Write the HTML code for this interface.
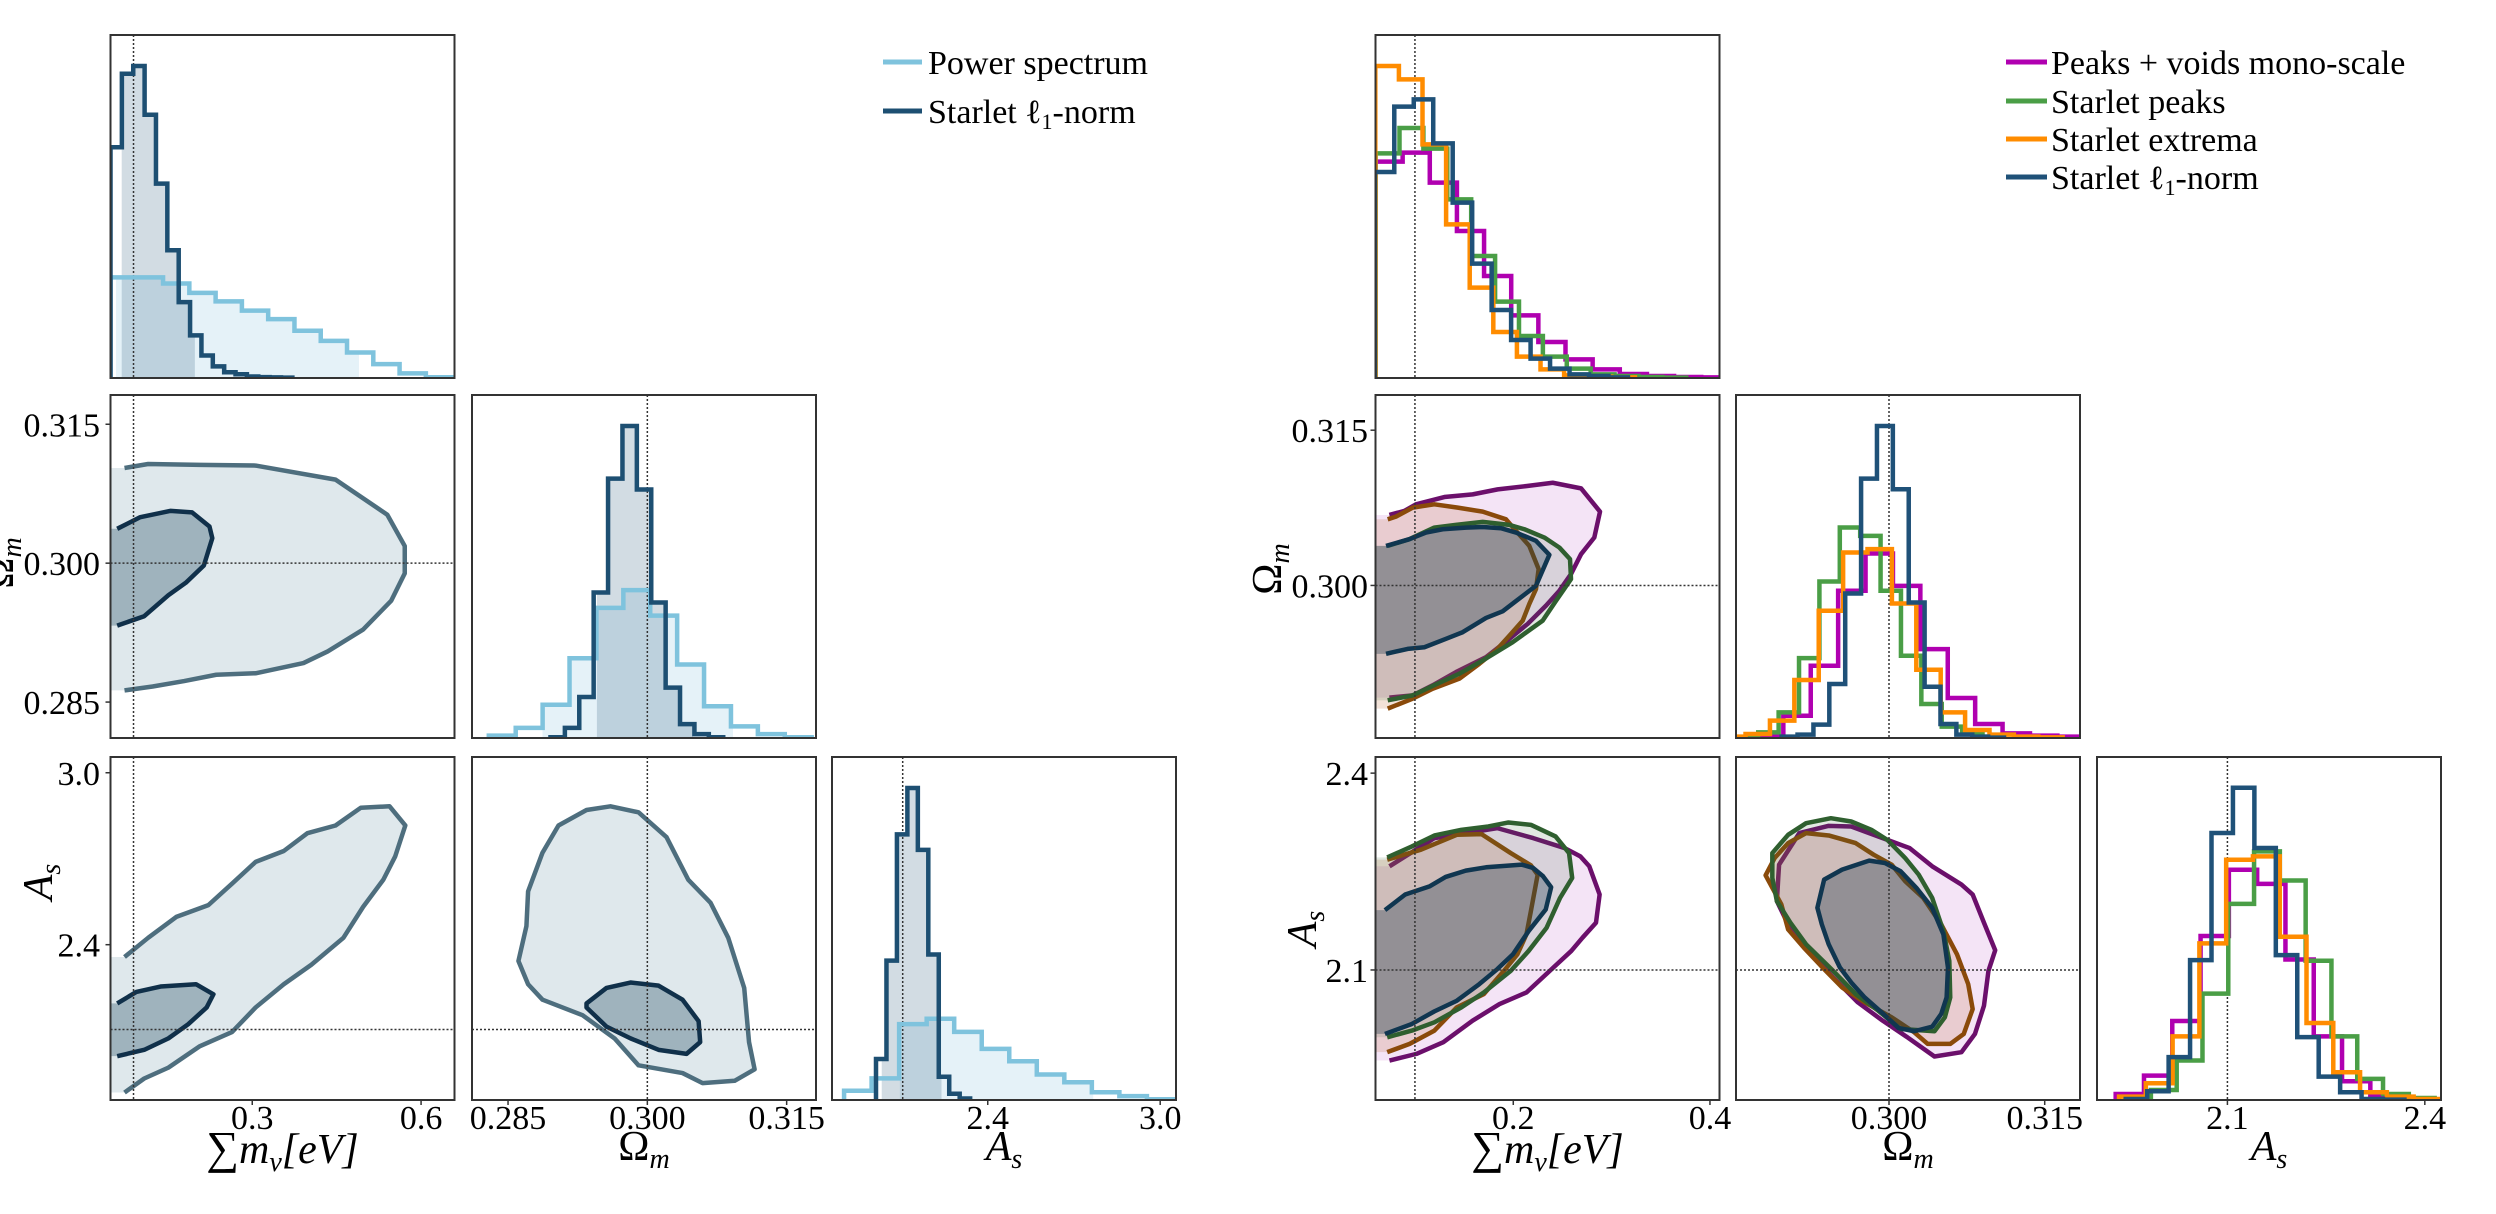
<!DOCTYPE html>
<html><head><meta charset="utf-8"><title>Corner plots</title>
<style>
html,body{margin:0;padding:0;background:#fff;}
svg{display:block;font-family:"Liberation Serif",serif;}
text{font-family:"Liberation Serif",serif;}
</style></head>
<body>
<svg id="fig" xmlns="http://www.w3.org/2000/svg" width="2496" height="1214" viewBox="0 0 2496 1214" font-family="Liberation Serif, serif">
<rect width="2496" height="1214" fill="#fff"/>
</svg>
<script>
// ---------- axis domains & ticks ----------
const leftMnuDomain=[0.0481,0.6594];
const leftOmDomain=[0.28112,0.31816];
const leftAsDomain=[1.858,3.055];
const rightMnuDomain=[0.0599,0.4097];
const rightOmDomain=[0.28526,0.3184];
const rightAsDomain=[1.9018,2.4246];
const leftMnuTicks=[0.3,0.6]; const leftMnuTickLabels=["0.3","0.6"];
const leftOmTicks=[0.285,0.300,0.315]; const leftOmTickLabels=["0.285","0.300","0.315"];
const leftAsTicks=[2.4,3.0]; const leftAsTickLabels=["2.4","3.0"];
const rightMnuTicks=[0.2,0.4]; const rightMnuTickLabels=["0.2","0.4"];
const rightOmTicks=[0.300,0.315]; const rightOmTickLabels=["0.300","0.315"];
const rightAsTicks=[2.1,2.4]; const rightAsTickLabels=["2.1","2.4"];
const leftFiducial=[0.089,0.300,2.104];
const rightFiducial=[0.1,0.300,2.1];

// ---------- left histograms (start, bin width, counts) ----------
const lPsMnu=[0.0481,0.0467]; const lPsMnuCounts=[130,130,122,110,99,87,76,61,48,33,18,6,1];
const lL1Mnu=[0.0481,0.0202]; const lL1MnuCounts=[298,393,403,340,251,165,98,55,29,15,7.5,4.8,2,1.2,0.8,0.5];
const lPsOm=[0.28293,0.002897]; const lPsOmCounts=[3,13,43,103,168,191,158,95,41,15,5,1];
const lL1Om=[0.28957,0.00155]; const lL1OmCounts=[1,13,53,188,335,403,321,175,65,18,5,1];
const lPsAs=[1.900,0.0958]; const lPsAsCounts=[12,28,98,105,88,66,50,33,23,10,5,1];
const lL1As=[2.0111,0.0364]; const lL1AsCounts=[53,180,343,403,323,188,30,8,2];
const lHistMax=443;
const lPsMnuFill=[0.058,0.4896]; const lL1MnuFill=[0.068,0.198];
const lPsOmFill=[0.28871,0.30922]; const lL1OmFill=[0.29457,0.30491];
const lPsAsFill=[2.094,2.767]; const lL1AsFill=[2.031,2.239];

// ---------- left contours ----------
const lMnuOmOuter=[[0.073,0.31028],[0.115,0.31071],[0.207,0.31062],[0.306,0.31054],[0.448,0.30902],[0.540,0.30523],[0.571,0.30185],[0.571,0.29890],[0.547,0.29595],[0.497,0.29283],[0.434,0.29047],[0.391,0.28921],[0.306,0.28811],[0.236,0.28795],[0.179,0.28727],[0.123,0.28668],[0.073,0.28626]];
const lMnuOmInner=[[0.060,0.30371],[0.101,0.30497],[0.155,0.30565],[0.193,0.30548],[0.224,0.30396],[0.229,0.30270],[0.214,0.29975],[0.182,0.29789],[0.151,0.29654],[0.108,0.29427],[0.060,0.29326]];
const lMnuAsOuter=[[0.073,2.357],[0.115,2.424],[0.165,2.497],[0.222,2.538],[0.264,2.613],[0.306,2.689],[0.356,2.727],[0.398,2.789],[0.448,2.816],[0.493,2.878],[0.544,2.883],[0.572,2.816],[0.554,2.708],[0.533,2.627],[0.497,2.532],[0.462,2.424],[0.405,2.330],[0.356,2.262],[0.306,2.181],[0.264,2.095],[0.207,2.046],[0.151,1.971],[0.108,1.933],[0.073,1.884]];
const lMnuAsInner=[[0.060,2.195],[0.094,2.235],[0.137,2.254],[0.200,2.262],[0.231,2.227],[0.219,2.181],[0.186,2.122],[0.151,2.073],[0.108,2.033],[0.060,2.011]];
const lOmAsOuter=[[0.28871,2.721],[0.29043,2.816],[0.29345,2.870],[0.29603,2.883],[0.29905,2.862],[0.30207,2.775],[0.30440,2.627],[0.30681,2.546],[0.30871,2.424],[0.31043,2.249],[0.31095,2.060],[0.31155,1.965],[0.30940,1.925],[0.30595,1.917],[0.30379,1.952],[0.29905,1.979],[0.29647,2.073],[0.29302,2.154],[0.28871,2.208],[0.28716,2.262],[0.28612,2.343],[0.28698,2.465],[0.28716,2.586]];
const lOmAsInner=[[0.29345,2.195],[0.29560,2.249],[0.29819,2.268],[0.30121,2.257],[0.30379,2.208],[0.30552,2.133],[0.30569,2.060],[0.30422,2.019],[0.30121,2.033],[0.29819,2.073],[0.29560,2.114],[0.29345,2.181]];

// ---------- right histograms ----------
const rPvMnu=[0.0599,0.0276]; const rPvMnuCounts=[649,676,586,441,306,188,108,56,26,12,6,3,2];
const rPkMnu=[0.0600,0.0243]; const rPkMnuCounts=[674,750,688,536,366,229,126,64,28,11,6,3,1];
const rExMnu=[0.0597,0.0240]; const rExMnuCounts=[936,896,701,461,271,138,64,26,8,4,2];
const rL1Mnu=[0.0592,0.0198]; const rL1MnuCounts=[618,814,836,704,526,343,204,114,58,28,11,6,2];
const rPvOm=[0.28718,0.00264]; const rPvOmCounts=[4,67,217,442,554,457,267,120,42,14,7,4];
const rPkOm=[0.28544,0.001964]; const rPkOmCounts=[2,17,77,240,470,632,607,442,247,102,34,12,4];
const rExOm=[0.28383,0.00235]; const rExOmCounts=[4,12,52,174,382,557,567,404,205,77,24,10,4,2];
const rL1Om=[0.28966,0.00153]; const rL1OmCounts=[4,10,40,162,434,779,937,747,407,154,42,10,4,1];
const rPvAs=[1.9302,0.0430]; const rPvAsCounts=[18,73,236,490,688,646,420,190,56,13,3];
const rPkAs=[1.9445,0.0392]; const rPkAsCounts=[3,30,118,318,586,743,656,416,190,63,18,6];
const rExAs=[1.9353,0.0407]; const rExAsCounts=[10,50,190,468,718,728,488,230,83,23,10,3];
const rL1As=[1.9455,0.03258]; const rL1AsCounts=[3,26,128,418,798,933,753,433,188,70,23,3,1];
const rHistMax=[1029,1030,1025];

// ---------- right contours ----------
const rMnuOmPv=[[0.0740,0.30681],[0.0892,0.30720],[0.1011,0.30784],[0.1299,0.30854],[0.1587,0.30880],[0.1841,0.30928],[0.2130,0.30960],[0.2401,0.30992],[0.2689,0.30938],[0.2882,0.30713],[0.2824,0.30463],[0.2689,0.30302],[0.2587,0.30110],[0.2469,0.29949],[0.2333,0.29805],[0.2146,0.29628],[0.1960,0.29484],[0.1723,0.29307],[0.1418,0.29163],[0.1180,0.29035],[0.0977,0.28938],[0.0740,0.28916]];
const rMnuOmEx=[[0.0723,0.30639],[0.0807,0.30665],[0.0977,0.30752],[0.1197,0.30784],[0.1435,0.30752],[0.1689,0.30713],[0.1926,0.30639],[0.2028,0.30527],[0.2163,0.30382],[0.2258,0.30158],[0.2231,0.29965],[0.2163,0.29821],[0.2096,0.29660],[0.1977,0.29532],[0.1824,0.29371],[0.1655,0.29243],[0.1452,0.29099],[0.1180,0.29002],[0.0977,0.28906],[0.0723,0.28810]];
const rMnuOmPk=[[0.0723,0.30382],[0.0943,0.30447],[0.1197,0.30559],[0.1418,0.30585],[0.1689,0.30614],[0.1960,0.30585],[0.2113,0.30543],[0.2316,0.30463],[0.2469,0.30366],[0.2577,0.30254],[0.2587,0.30061],[0.2435,0.29853],[0.2299,0.29660],[0.1994,0.29452],[0.1689,0.29275],[0.1452,0.29147],[0.1214,0.29044],[0.0977,0.28938],[0.0723,0.28890]];
const rMnuOmL1=[[0.0706,0.30382],[0.0943,0.30447],[0.1113,0.30511],[0.1282,0.30543],[0.1519,0.30559],[0.1689,0.30565],[0.1875,0.30553],[0.2028,0.30511],[0.2231,0.30431],[0.2367,0.30296],[0.2231,0.29997],[0.2011,0.29837],[0.1892,0.29750],[0.1723,0.29686],[0.1485,0.29548],[0.1316,0.29484],[0.1096,0.29403],[0.0926,0.29387],[0.0706,0.29339]];
const rMnuAsPv=[[0.0741,2.2580],[0.1198,2.3010],[0.1837,2.3162],[0.2202,2.3010],[0.2522,2.2858],[0.2682,2.2732],[0.2773,2.2580],[0.2878,2.2150],[0.2841,2.1720],[0.2704,2.1492],[0.2590,2.1290],[0.2408,2.1037],[0.2134,2.0657],[0.1860,2.0480],[0.1586,2.0227],[0.1289,1.9899],[0.1015,1.9721],[0.0741,1.9620]];
const rMnuAsEx=[[0.0718,2.2681],[0.1061,2.2833],[0.1426,2.3060],[0.1677,2.3071],[0.1974,2.2782],[0.2179,2.2595],[0.2248,2.2453],[0.2179,2.1897],[0.2134,2.1543],[0.2042,2.1239],[0.1905,2.0986],[0.1700,2.0632],[0.1426,2.0430],[0.1198,2.0076],[0.0946,1.9873],[0.0718,1.9747]];
const rMnuAsPk=[[0.0718,2.2716],[0.0969,2.2883],[0.1198,2.3050],[0.1472,2.3136],[0.1746,2.3187],[0.1951,2.3248],[0.2179,2.3212],[0.2430,2.3035],[0.2567,2.2782],[0.2599,2.2403],[0.2476,2.2099],[0.2339,2.1644],[0.2156,2.1290],[0.1974,2.0986],[0.1700,2.0657],[0.1472,2.0430],[0.1198,2.0202],[0.0969,2.0076],[0.0718,1.9974]];
const rMnuAsL1=[[0.0695,2.1912],[0.0901,2.2150],[0.1152,2.2276],[0.1312,2.2418],[0.1517,2.2514],[0.1723,2.2565],[0.2088,2.2605],[0.2202,2.2555],[0.2303,2.2428],[0.2385,2.2261],[0.2330,2.1922],[0.2156,2.1593],[0.1997,2.1239],[0.1837,2.1012],[0.1654,2.0784],[0.1426,2.0531],[0.1198,2.0369],[0.0969,2.0177],[0.0695,2.0025]];
const rOmAsPv=[[0.28941,2.2605],[0.29136,2.3086],[0.29419,2.3197],[0.29636,2.3187],[0.29939,2.3010],[0.30199,2.2858],[0.30416,2.2580],[0.30698,2.2302],[0.30806,2.2150],[0.30915,2.1720],[0.31023,2.1300],[0.30958,2.0986],[0.30915,2.0455],[0.30828,2.0025],[0.30698,1.9747],[0.30438,1.9681],[0.30177,1.9974],[0.29939,2.0227],[0.29700,2.0506],[0.29462,2.0885],[0.29201,2.1340],[0.29028,2.1694],[0.28920,2.2049],[0.28933,2.2403]];
const rOmAsEx=[[0.28811,2.2443],[0.28898,2.2706],[0.29028,2.2934],[0.29201,2.3086],[0.29419,2.3050],[0.29679,2.2934],[0.29852,2.2757],[0.30026,2.2605],[0.30156,2.2352],[0.30330,2.2099],[0.30503,2.1694],[0.30655,2.1239],[0.30763,2.0784],[0.30806,2.0404],[0.30720,2.0025],[0.30590,1.9873],[0.30373,1.9873],[0.30243,2.0050],[0.30026,2.0278],[0.29766,2.0506],[0.29548,2.0733],[0.29375,2.1012],[0.29180,2.1340],[0.29028,2.1619],[0.28963,2.1998]];
const rOmAsPk=[[0.28876,2.2782],[0.29028,2.3060],[0.29201,2.3237],[0.29440,2.3313],[0.29636,2.3263],[0.29830,2.3136],[0.29982,2.2985],[0.30156,2.2706],[0.30286,2.2453],[0.30416,2.2099],[0.30524,2.1593],[0.30581,2.1138],[0.30590,2.0581],[0.30538,2.0278],[0.30438,2.0066],[0.30112,2.0101],[0.29896,2.0379],[0.29679,2.0632],[0.29462,2.0986],[0.29201,2.1391],[0.29050,2.1720],[0.28920,2.2049],[0.28876,2.2403]];
const rOmAsL1=[[0.29375,2.2377],[0.29548,2.2529],[0.29809,2.2666],[0.29961,2.2630],[0.30112,2.2504],[0.30264,2.2251],[0.30416,2.1948],[0.30524,2.1543],[0.30568,2.1037],[0.30555,2.0581],[0.30503,2.0329],[0.30416,2.0136],[0.30243,2.0066],[0.30091,2.0116],[0.29939,2.0339],[0.29766,2.0581],[0.29636,2.0809],[0.29527,2.1037],[0.29419,2.1391],[0.29353,2.1694],[0.29310,2.1948]];

// ---------- rendering ----------
const NS="http://www.w3.org/2000/svg";
const svg=document.getElementById('fig');
function el(tag,attrs,parent){const e=document.createElementNS(NS,tag);for(const k in attrs)e.setAttribute(k,attrs[k]);if(tag==='text')e.setAttribute('font-family','Liberation Serif, serif');(parent||svg).appendChild(e);return e;}
function lin(d,r0,r1){return v=>r0+(v-d[0])/(d[1]-d[0])*(r1-r0);}
const PW=344,PH=343;
const leftCols=[110.5,472,832], rightCols=[1375.5,1736,2097], rows=[35,395,757];
let clipN=0;
function makePanel(x,y,name){
  const id='clip'+(clipN++);
  const cp=el('clipPath',{id:id});
  el('rect',{x:x,y:y,width:PW,height:PH},cp);
  const g=el('g',{'clip-path':'url(#'+id+')'});
  
  
  return {x:x,y:y,g:g};
}
function frame(p,name){
  const r=el('rect',{x:p.x,y:p.y,width:PW,height:PH,fill:'none',stroke:'#333','stroke-width':2});
  
  
}
function stepPath(xs,ys,spec,counts){
  let x0=xs(spec[0]);let d='M'+x0+','+ys(0);
  for(let i=0;i<counts.length;i++){const a=xs(spec[0]+i*spec[1]),b=xs(spec[0]+(i+1)*spec[1]),h=ys(counts[i]);d+=' L'+a+','+h+' L'+b+','+h;}
  d+=' L'+xs(spec[0]+counts.length*spec[1])+','+ys(0);return d;
}
function hist(p,xs,ys,spec,counts,color,name){
  const e=el('path',{d:stepPath(xs,ys,spec,counts),fill:'none',stroke:color,'stroke-width':4.5,'stroke-linejoin':'miter'},p.g);
  
  
}
function histFill(p,xs,ys,spec,counts,range,color,name){
  const id='clip'+(clipN++);
  const cp=el('clipPath',{id:id});
  el('rect',{x:xs(range[0]),y:p.y,width:xs(range[1])-xs(range[0]),height:PH},cp);
  const e=el('path',{d:stepPath(xs,ys,spec,counts)+' Z',fill:color,stroke:'none','clip-path':'url(#'+id+')'},p.g);
  
  
}
function contour(p,xs,ys,pts,fill,stroke,openLeft,xmin,name){
  let fp=pts.map(q=>[xs(q[0]),ys(q[1])]);
  let fillPts=fp.slice();
  if(openLeft){fillPts=[[xs(xmin)-5,fp[0][1]]].concat(fp,[[xs(xmin)-5,fp[fp.length-1][1]]]);}
  const f=el('polygon',{points:fillPts.map(q=>q.join(',')).join(' '),fill:fill,stroke:'none'},p.g);
  
  
  const s=el(openLeft?'polyline':'polygon',{points:fp.map(q=>q.join(',')).join(' '),fill:'none',stroke:stroke,'stroke-width':4.5,'stroke-linejoin':'round'},p.g);
  
  
}
function vline(p,x){el('line',{x1:x,x2:x,y1:p.y,y2:p.y+PH,stroke:'#333','stroke-width':1.5,'stroke-dasharray':'2,2'},p.g);}
function hline(p,y){el('line',{x1:p.x,x2:p.x+PW,y1:y,y2:y,stroke:'#333','stroke-width':1.5,'stroke-dasharray':'2,2'},p.g);}
function xTicks(p,xs,ticks,labels,name){
  ticks.forEach((t,i)=>{const x=xs(t);
    el('line',{x1:x,x2:x,y1:p.y+PH,y2:p.y+PH+5,stroke:'#333','stroke-width':1.5});
    const tx=el('text',{x:x,y:1129,'font-size':34,'text-anchor':'middle',fill:'#000'});tx.textContent=labels[i];
    
    });
}
function yTicks(p,ys,ticks,labels,right,name){
  ticks.forEach((t,i)=>{const y=ys(t);
    el('line',{x1:p.x-5,x2:p.x,y1:y,y2:y,stroke:'#333','stroke-width':1.5});
    const tx=el('text',{x:right,y:y+12,'font-size':34,'text-anchor':'end',fill:'#000'});tx.textContent=labels[i];
    
    });
}
function label(html,x,y,rot,name){
  const t=el('text',{x:x,y:y,'font-size':42,'text-anchor':'middle',fill:'#000'});
  if(rot)t.setAttribute('transform','rotate(-90 '+x+' '+y+')');
  t.innerHTML=html;
  
  
}
const MNU='<tspan font-size="46">∑</tspan><tspan font-style="italic">m</tspan><tspan font-style="italic" font-size="28" dy="8">ν</tspan><tspan font-style="italic" dy="-8">[eV]</tspan>';
const OM='Ω<tspan font-style="italic" font-size="28" dy="8">m</tspan>';
const AS='<tspan font-style="italic">A</tspan><tspan font-style="italic" font-size="28" dy="8">s</tspan>';

// ===== LEFT GRID =====
(function(){
  const C=leftCols,R=rows;
  const xM=lin(leftMnuDomain,C[0],C[0]+PW), xO=lin(leftOmDomain,C[1],C[1]+PW), xA=lin(leftAsDomain,C[2],C[2]+PW);
  const yO=lin(leftOmDomain,R[1]+PH,R[1]), yA=lin(leftAsDomain,R[2]+PH,R[2]);
  const light='#7fc3dd', dark='#1d4f72';
  let p=makePanel(C[0],R[0],'left-mnu-hist-panel'); let yh=lin([0,lHistMax],R[0]+PH,R[0]);
  histFill(p,xM,yh,lPsMnu,lPsMnuCounts,lPsMnuFill,'#e5f2f8','ps-mnu-fill');
  histFill(p,xM,yh,lL1Mnu,lL1MnuCounts,lL1MnuFill,'rgba(29,79,114,0.2)','l1-mnu-fill');
  vline(p,xM(leftFiducial[0]));
  hist(p,xM,yh,lPsMnu,lPsMnuCounts,light,'ps-mnu-hist');
  hist(p,xM,yh,lL1Mnu,lL1MnuCounts,dark,'l1-mnu-hist');
  frame(p,'left-mnu-hist-frame');
  p=makePanel(C[1],R[1],'left-om-hist-panel'); yh=lin([0,lHistMax],R[1]+PH,R[1]);
  histFill(p,xO,yh,lPsOm,lPsOmCounts,lPsOmFill,'#e5f2f8','ps-om-fill');
  histFill(p,xO,yh,lL1Om,lL1OmCounts,lL1OmFill,'rgba(29,79,114,0.2)','l1-om-fill');
  vline(p,xO(leftFiducial[1]));
  hist(p,xO,yh,lPsOm,lPsOmCounts,light,'ps-om-hist');
  hist(p,xO,yh,lL1Om,lL1OmCounts,dark,'l1-om-hist');
  frame(p,'left-om-hist-frame');
  p=makePanel(C[2],R[2],'left-as-hist-panel'); yh=lin([0,lHistMax],R[2]+PH,R[2]);
  histFill(p,xA,yh,lPsAs,lPsAsCounts,lPsAsFill,'#e5f2f8','ps-as-fill');
  histFill(p,xA,yh,lL1As,lL1AsCounts,lL1AsFill,'rgba(29,79,114,0.2)','l1-as-fill');
  vline(p,xA(leftFiducial[2]));
  hist(p,xA,yh,lPsAs,lPsAsCounts,light,'ps-as-hist');
  hist(p,xA,yh,lL1As,lL1AsCounts,dark,'l1-as-hist');
  frame(p,'left-as-hist-frame');
  xTicks(p,xA,leftAsTicks,leftAsTickLabels,'left-as-x');
  p=makePanel(C[0],R[1],'left-mnu-om-panel');
  contour(p,xM,yO,lMnuOmOuter,'#dfe8ec','#4e6e7e',true,leftMnuDomain[0],'left-mnu-om-outer');
  contour(p,xM,yO,lMnuOmInner,'#9fb3bd','#10304a',true,leftMnuDomain[0],'left-mnu-om-inner');
  vline(p,xM(leftFiducial[0])); hline(p,yO(leftFiducial[1]));
  frame(p,'left-mnu-om-frame');
  yTicks(p,yO,leftOmTicks,leftOmTickLabels,100,'left-om-y');
  p=makePanel(C[0],R[2],'left-mnu-as-panel');
  contour(p,xM,yA,lMnuAsOuter,'#dfe8ec','#4e6e7e',true,leftMnuDomain[0],'left-mnu-as-outer');
  contour(p,xM,yA,lMnuAsInner,'#9fb3bd','#10304a',true,leftMnuDomain[0],'left-mnu-as-inner');
  vline(p,xM(leftFiducial[0])); hline(p,yA(leftFiducial[2]));
  frame(p,'left-mnu-as-frame');
  yTicks(p,yA,leftAsTicks,leftAsTickLabels,100,'left-as-y');
  xTicks(p,xM,leftMnuTicks,leftMnuTickLabels,'left-mnu-x');
  p=makePanel(C[1],R[2],'left-om-as-panel');
  contour(p,xO,yA,lOmAsOuter,'#dfe8ec','#4e6e7e',false,0,'left-om-as-outer');
  contour(p,xO,yA,lOmAsInner,'#9fb3bd','#10304a',false,0,'left-om-as-inner');
  vline(p,xO(leftFiducial[1])); hline(p,yA(leftFiducial[2]));
  frame(p,'left-om-as-frame');
  xTicks(p,xO,leftOmTicks,leftOmTickLabels,'left-om-x');
  label(MNU,C[0]+PW/2,1163,false,'left-x-axis-title-mnu');
  label(OM,C[1]+PW/2,1160,false,'left-x-axis-title-om');
  label(AS,C[2]+PW/2,1160,false,'left-x-axis-title-as');
  label(OM,13,563,true,'left-y-axis-title-om');
  label(AS,52,882,true,'left-y-axis-title-as');
})();

// ===== RIGHT GRID =====
(function(){
  const C=rightCols,R=rows;
  const xM=lin(rightMnuDomain,C[0],C[0]+PW), xO=lin(rightOmDomain,C[1],C[1]+PW), xA=lin(rightAsDomain,C[2],C[2]+PW);
  const yO=lin(rightOmDomain,R[1]+PH,R[1]), yA=lin(rightAsDomain,R[2]+PH,R[2]);
  const cPv='#b000b0', cPk='#4a9e46', cEx='#ff8c00', cL1='#1f5178';
  let p=makePanel(C[0],R[0],'right-mnu-hist-panel'); let yh=lin([0,rHistMax[0]],R[0]+PH,R[0]);
  vline(p,xM(rightFiducial[0]));
  hist(p,xM,yh,rPvMnu,rPvMnuCounts,cPv,'pv-mnu-hist');
  hist(p,xM,yh,rPkMnu,rPkMnuCounts,cPk,'pk-mnu-hist');
  hist(p,xM,yh,rExMnu,rExMnuCounts,cEx,'ex-mnu-hist');
  hist(p,xM,yh,rL1Mnu,rL1MnuCounts,cL1,'l1r-mnu-hist');
  frame(p,'right-mnu-hist-frame');
  p=makePanel(C[1],R[1],'right-om-hist-panel'); yh=lin([0,rHistMax[1]],R[1]+PH,R[1]);
  vline(p,xO(rightFiducial[1]));
  hist(p,xO,yh,rPvOm,rPvOmCounts,cPv,'pv-om-hist');
  hist(p,xO,yh,rPkOm,rPkOmCounts,cPk,'pk-om-hist');
  hist(p,xO,yh,rExOm,rExOmCounts,cEx,'ex-om-hist');
  hist(p,xO,yh,rL1Om,rL1OmCounts,cL1,'l1r-om-hist');
  frame(p,'right-om-hist-frame');
  p=makePanel(C[2],R[2],'right-as-hist-panel'); yh=lin([0,rHistMax[2]],R[2]+PH,R[2]);
  vline(p,xA(rightFiducial[2]));
  hist(p,xA,yh,rPvAs,rPvAsCounts,cPv,'pv-as-hist');
  hist(p,xA,yh,rPkAs,rPkAsCounts,cPk,'pk-as-hist');
  hist(p,xA,yh,rExAs,rExAsCounts,cEx,'ex-as-hist');
  hist(p,xA,yh,rL1As,rL1AsCounts,cL1,'l1r-as-hist');
  frame(p,'right-as-hist-frame');
  xTicks(p,xA,rightAsTicks,rightAsTickLabels,'right-as-x');
  const fPv='rgba(200,120,210,0.2)', fEx='rgba(190,110,60,0.2)', fPk='rgba(60,110,60,0.15)', fL1='rgba(25,55,75,0.33)';
  const sPv='#6b0f6b', sEx='#8a4a0a', sPk='#2f5f2f', sL1='#103650';
  p=makePanel(C[0],R[1],'right-mnu-om-panel');
  contour(p,xM,yO,rMnuOmPv,fPv,sPv,true,rightMnuDomain[0],'pv-mnu-om');
  contour(p,xM,yO,rMnuOmEx,fEx,sEx,true,rightMnuDomain[0],'ex-mnu-om');
  contour(p,xM,yO,rMnuOmPk,fPk,sPk,true,rightMnuDomain[0],'pk-mnu-om');
  contour(p,xM,yO,rMnuOmL1,fL1,sL1,true,rightMnuDomain[0],'l1r-mnu-om');
  vline(p,xM(rightFiducial[0])); hline(p,yO(rightFiducial[1]));
  frame(p,'right-mnu-om-frame');
  yTicks(p,yO,rightOmTicks,rightOmTickLabels,1368,'right-om-y');
  p=makePanel(C[0],R[2],'right-mnu-as-panel');
  contour(p,xM,yA,rMnuAsPv,fPv,sPv,true,rightMnuDomain[0],'pv-mnu-as');
  contour(p,xM,yA,rMnuAsEx,fEx,sEx,true,rightMnuDomain[0],'ex-mnu-as');
  contour(p,xM,yA,rMnuAsPk,fPk,sPk,true,rightMnuDomain[0],'pk-mnu-as');
  contour(p,xM,yA,rMnuAsL1,fL1,sL1,true,rightMnuDomain[0],'l1r-mnu-as');
  vline(p,xM(rightFiducial[0])); hline(p,yA(rightFiducial[2]));
  frame(p,'right-mnu-as-frame');
  yTicks(p,yA,rightAsTicks,rightAsTickLabels,1368,'right-as-y');
  xTicks(p,xM,rightMnuTicks,rightMnuTickLabels,'right-mnu-x');
  p=makePanel(C[1],R[2],'right-om-as-panel');
  contour(p,xO,yA,rOmAsPv,fPv,sPv,false,0,'pv-om-as');
  contour(p,xO,yA,rOmAsEx,fEx,sEx,false,0,'ex-om-as');
  contour(p,xO,yA,rOmAsPk,fPk,sPk,false,0,'pk-om-as');
  contour(p,xO,yA,rOmAsL1,fL1,sL1,false,0,'l1r-om-as');
  vline(p,xO(rightFiducial[1])); hline(p,yA(rightFiducial[2]));
  frame(p,'right-om-as-frame');
  xTicks(p,xO,rightOmTicks,rightOmTickLabels,'right-om-x');
  label(MNU,C[0]+PW/2,1163,false,'right-x-axis-title-mnu');
  label(OM,C[1]+PW/2,1160,false,'right-x-axis-title-om');
  label(AS,C[2]+PW/2,1160,false,'right-x-axis-title-as');
  label(OM,1281,569,true,'right-y-axis-title-om');
  label(AS,1316,929,true,'right-y-axis-title-as');
})();

// ===== LEGENDS =====
const leftLegendNames=["Power spectrum","Starlet ℓ<tspan font-size=\"22\" dy=\"6\">1</tspan><tspan dy=\"-6\">-norm</tspan>"];
const leftLegendColors=['#7fc3dd','#1d4f72'];
const leftLegendY=[62,111];
const rightLegendNames=["Peaks + voids mono-scale","Starlet peaks","Starlet extrema","Starlet ℓ<tspan font-size=\"22\" dy=\"6\">1</tspan><tspan dy=\"-6\">-norm</tspan>"];
const rightLegendColors=['#b000b0','#4a9e46','#ff8c00','#1f5178'];
const rightLegendY=[62,101,139,177];
function legend(names,colors,ys,x0,x1,tx,prefix){
  names.forEach((n,i)=>{
    const g=el('g',{});
    
    
    el('line',{x1:x0,x2:x1,y1:ys[i],y2:ys[i],stroke:colors[i],'stroke-width':5},g);
    const t=el('text',{x:tx,y:ys[i]+12,'font-size':34,fill:'#000'},g);
    t.innerHTML=n;
  });
}
legend(leftLegendNames,leftLegendColors,leftLegendY,883,922,928,'left');
legend(rightLegendNames,rightLegendColors,rightLegendY,2006,2047,2051,'right');
</script>
</body></html>
